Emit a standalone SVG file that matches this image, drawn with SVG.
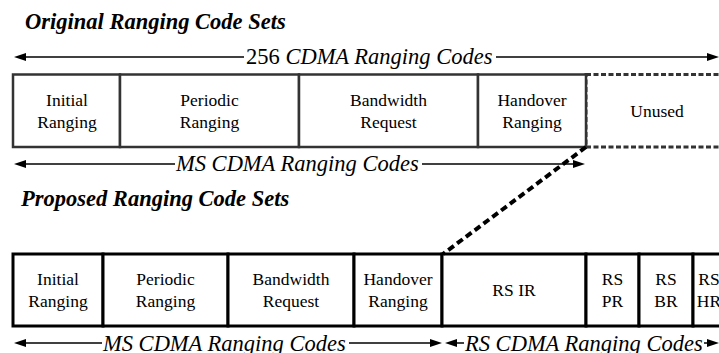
<svg xmlns="http://www.w3.org/2000/svg" width="719" height="353" viewBox="0 0 719 353">
<style>
.title{font-size:22.5px;font-weight:bold;font-style:italic;fill:#000}
.lab{font-size:17.5px;fill:#000;text-anchor:middle}
.al{font-size:22.5px;font-style:italic;fill:#000}
.arr{stroke:#000;stroke-width:1.5;fill:none}
.hd{fill:#000;stroke:none}
.ob{fill:#fff;stroke:#333;stroke-width:2.5}
.nb{fill:#fff;stroke:#000;stroke-width:3}
</style>
<rect width="719" height="353" fill="#fff"/>
<text class="title" font-family="Liberation Serif" x="25" y="29">Original Ranging Code Sets</text>
<text class="title" font-family="Liberation Serif" x="21" y="206">Proposed Ranging Code Sets</text>

<g id="orig-unused">
<rect x="586" y="74.5" width="150" height="72.5" fill="#fff" stroke="#333" stroke-width="3" stroke-dasharray="5 2.5"/>
<text class="lab" font-family="Liberation Serif" x="657" y="117">Unused</text>
</g>
<g id="orig-ir"><rect class="ob" x="13" y="74.5" width="107" height="72.5"/><text class="lab" font-family="Liberation Serif" x="67" y="106">Initial</text><text class="lab" font-family="Liberation Serif" x="67" y="128">Ranging</text></g>
<g id="orig-pr"><rect class="ob" x="120" y="74.5" width="179" height="72.5"/><text class="lab" font-family="Liberation Serif" x="209.5" y="106">Periodic</text><text class="lab" font-family="Liberation Serif" x="209.5" y="128">Ranging</text></g>
<g id="orig-br"><rect class="ob" x="299" y="74.5" width="179" height="72.5"/><text class="lab" font-family="Liberation Serif" x="388.5" y="106">Bandwidth</text><text class="lab" font-family="Liberation Serif" x="388.5" y="128">Request</text></g>
<g id="orig-hr"><rect class="ob" x="478" y="74.5" width="108" height="72.5"/><text class="lab" font-family="Liberation Serif" x="532" y="106">Handover</text><text class="lab" font-family="Liberation Serif" x="532" y="128">Ranging</text></g>

<g id="new-ir"><rect class="nb" x="13" y="254" width="90" height="72"/><text class="lab" font-family="Liberation Serif" x="58" y="285">Initial</text><text class="lab" font-family="Liberation Serif" x="58" y="307">Ranging</text></g>
<g id="new-pr"><rect class="nb" x="103" y="254" width="125" height="72"/><text class="lab" font-family="Liberation Serif" x="165.5" y="285">Periodic</text><text class="lab" font-family="Liberation Serif" x="165.5" y="307">Ranging</text></g>
<g id="new-br"><rect class="nb" x="228" y="254" width="126" height="72"/><text class="lab" font-family="Liberation Serif" x="291" y="285">Bandwidth</text><text class="lab" font-family="Liberation Serif" x="291" y="307">Request</text></g>
<g id="new-hr"><rect class="nb" x="354" y="254" width="88" height="72"/><text class="lab" font-family="Liberation Serif" x="398" y="285">Handover</text><text class="lab" font-family="Liberation Serif" x="398" y="307">Ranging</text></g>
<g id="rs-ir"><rect class="nb" x="442" y="254" width="144" height="72"/><text class="lab" font-family="Liberation Serif" x="514" y="296">RS IR</text></g>
<g id="rs-pr"><rect class="nb" x="586" y="254" width="53" height="72"/><text class="lab" font-family="Liberation Serif" x="612.5" y="285">RS</text><text class="lab" font-family="Liberation Serif" x="612.5" y="307">PR</text></g>
<g id="rs-br"><rect class="nb" x="639" y="254" width="54" height="72"/><text class="lab" font-family="Liberation Serif" x="666" y="285">RS</text><text class="lab" font-family="Liberation Serif" x="666" y="307">BR</text></g>
<g id="rs-hr"><rect class="nb" x="693" y="254" width="40" height="72"/><text class="lab" font-family="Liberation Serif" x="709" y="285">RS</text><text class="lab" font-family="Liberation Serif" x="709" y="307">HR</text></g>

<g id="connectors">
<line x1="586" y1="147" x2="443" y2="254" stroke="#000" stroke-width="4" stroke-dasharray="7 4"/>
<line class="arr" x1="244" y1="57" x2="24" y2="57"/>
<polygon class="hd" points="14,57 26,53 26,61"/>
<line class="arr" x1="496" y1="57" x2="709" y2="57"/>
<polygon class="hd" points="719,57 707,53 707,61"/>
<line class="arr" x1="175" y1="164" x2="24" y2="164"/>
<polygon class="hd" points="14,164 26,160 26,168"/>
<line class="arr" x1="422" y1="164" x2="575" y2="164"/>
<polygon class="hd" points="585,164 573,160 573,168"/>
<line class="arr" x1="102" y1="343" x2="24" y2="343"/>
<polygon class="hd" points="14,343 26,339 26,347"/>
<line class="arr" x1="349" y1="343" x2="432" y2="343"/>
<polygon class="hd" points="442,343 430,339 430,347"/>
<line class="arr" x1="464" y1="343" x2="455" y2="343"/>
<polygon class="hd" points="445,343 457,339 457,347"/>
<line class="arr" x1="704" y1="343" x2="710" y2="343"/>
<polygon class="hd" points="719,343 707,339 707,347"/>
</g>
<text class="al" font-family="Liberation Serif" x="246" y="64"><tspan font-style="normal">256</tspan> CDMA Ranging Codes</text>
<text class="al" font-family="Liberation Serif" x="176" y="171">MS CDMA Ranging Codes</text>
<text class="al" font-family="Liberation Serif" x="103" y="350.5">MS CDMA Ranging Codes</text>
<text class="al" font-family="Liberation Serif" x="465" y="350.5">RS CDMA Ranging Codes</text>
</svg>
